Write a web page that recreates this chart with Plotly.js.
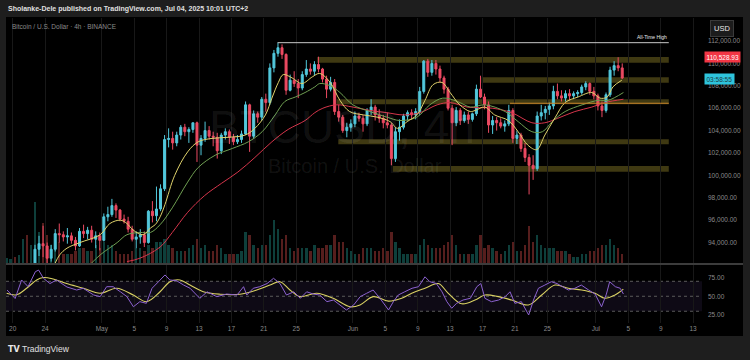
<!DOCTYPE html>
<html><head><meta charset="utf-8">
<script src="https://cdn.plot.ly/plotly-3.0.1.min.js"></script>
<style>html,body{margin:0;padding:0;background:#1e1e1e;}#chart{width:750px;height:360px;}</style>
</head><body><div id="chart"></div>
<script>
// x values are days since 2025-04-20 00:00
const tickDays = [0,4,11,15,19,23,27,31,35,42,46,50,54,58,62,66,72,76,80,84];
const tickLabels = ['20','24','May','5','9','13','17','21','25','Jun','5','9','13','17','21','25','Jul','5','9','13'];
const priceTicks = [94000,96000,98000,100000,102000,104000,106000,108000,110000,112000];
const rsiTicks = [25,50,75];

// 12h candles, first one starts 2025-04-19 00:00
const firstCandleDay = -0.75;
const candleStep = 0.5;
const open = [84800,85100,85200,84500,85100,87500,87400,89200,93400,93900,
93700,92600,93400,94800,94700,94500,94600,94200,93700,95000,
94800,95100,94300,94600,94200,96300,96500,97300,96900,96100,
95900,95200,94300,94500,94700,94000,96800,96400,97000,98800,
103200,103300,102900,103600,104300,103900,104100,104700,102700,103300,
104000,103500,103400,102200,103600,103900,103400,103000,103200,103700,
106300,103500,105500,105200,106800,106500,109600,110900,111400,110800,
107600,108500,108200,107800,109000,109500,109300,109900,109500,108600,
107700,108300,105700,105200,104000,104300,104600,105300,105100,104600,
105800,106100,105400,105100,104700,104500,101500,103900,104300,105300,
105600,105400,105700,107500,110200,109200,110000,109500,108700,107700,
106000,104700,105800,104900,105400,105000,105500,107700,107000,106300,
104500,104900,104700,104400,104600,105800,103300,103600,102400,101600,
100900,100600,105300,105600,105900,106200,107500,107100,106900,107300,
107100,107300,107400,107900,108200,107500,107100,106200,105800,107200,
109400,109800,109600];
const high = [85300,85500,85400,85300,88000,88400,89500,93800,94600,95500,
94000,93800,95200,95700,95000,95300,94900,94500,95300,95600,
95400,95500,95000,94900,96600,97200,97900,97500,97000,96500,
96300,95500,95000,95200,95000,96900,97700,99000,99200,103600,
104200,103900,103900,104500,104600,104300,104700,104800,103600,104800,
104400,103900,103800,103800,104200,104100,103700,103600,104000,106600,
106400,105800,105700,107000,107300,110000,111200,111850,111700,110900,
109000,109300,108600,109300,110300,110000,110200,110600,109600,108900,
108800,108600,106300,105400,104700,105000,105700,105600,105400,106000,
106800,106300,105900,105400,105600,104700,104300,105000,105500,105800,
105900,106000,107900,110300,110400,110300,110300,109800,108900,107900,
106300,106100,106000,105700,105700,105600,108100,108900,107300,106600,
105300,105200,105100,104900,106300,106000,104000,103800,102900,101900,
101800,105700,106300,106200,106500,108000,108200,107600,107600,107700,
107500,107600,108100,108400,108300,107900,107300,106600,107400,109700,
110200,110550,110000];
const low = [84600,84900,83900,84200,85000,86800,87100,89000,92800,92700,
91800,92300,93200,94000,94100,93900,93900,93300,93600,94400,
94300,94000,93500,93300,94100,95900,96300,96200,95900,95700,
94900,94100,93500,93900,93600,93900,95800,95900,96800,98600,
102500,102300,102600,103200,103500,102900,103800,101200,101800,103000,
103200,102600,101500,101900,103200,102800,102700,102800,102900,103600,
102100,103300,104700,104900,105700,106300,109200,110600,110400,107200,
107500,107900,106900,107600,108800,109000,108900,109200,108300,106900,
107500,105400,104800,103800,103400,103900,104300,104800,103900,104400,
105400,104900,104700,104200,104200,100900,101200,103100,104100,104900,
105000,105000,105400,107300,108800,108900,109000,108300,107300,105800,
102700,104400,104500,104700,104600,104800,105300,106900,105900,103800,
103700,104000,104200,103900,104400,102900,102800,102100,101200,98300,
99600,100400,104900,105000,105400,105900,106800,106600,106600,106700,
106800,107000,107200,107600,107200,106800,105800,105200,105600,107000,
108900,109300,108600];
const close = [85100,85200,84500,85100,87500,87400,89200,93400,93900,93700,
92600,93400,94800,94700,94500,94600,94200,93700,95000,94800,
95100,94300,94600,94200,96300,96500,97300,96900,96100,95900,
95200,94300,94500,94700,94000,96800,96400,97000,98800,103200,
103300,102900,103600,104300,103900,104100,104700,102700,103300,104000,
103500,103400,102200,103600,103900,103400,103000,103200,103700,106300,
103500,105500,105200,106800,106500,109600,110900,111400,110800,107600,
108500,108200,107800,109000,109500,109300,109900,109500,108600,107700,
108300,105700,105200,104000,104300,104600,105300,105100,104600,105800,
106100,105400,105100,104700,104500,101500,103900,104300,105300,105600,
105400,105700,107500,110200,109200,110000,109500,108700,107700,106000,
104700,105800,104900,105400,105000,105500,107700,107000,106300,104500,
104900,104700,104400,104600,105800,103300,103600,102400,101600,100900,
100600,105300,105600,105900,106200,107500,107100,106900,107300,107100,
107300,107400,107900,108200,107500,107100,106200,105800,107200,109400,
109800,109600,108700];
// volume, thousand BTC per candle
const volume = [1.5,1.2,1.8,2.5,8,9,6,20,10,13,
9,6,8,7,3,3,3,4,5,5,
4,4,6,5,7,6,6,4,3,3,
3,4,5,5,4,6,5,7,7,8,
6,5,4,4,4,5,6,8,5,6,
4,4,6,5,3,3,3,3,4,10,
9,6,5,6,6,9,14,11,8,9,
5,4,5,5,5,4,6,5,5,6,
6,9,7,7,5,4,3,3,5,5,
5,4,4,5,4,10,7,5,3,3,
3,3,6,8,6,5,5,5,6,7,
9,6,3,3,3,3,6,9,5,6,
5,4,3,4,6,7,4,4,6,12,
7,9,6,5,5,5,4,4,4,3,
2,2,3,3,4,4,5,6,6,8,
6,5,3];

// moving averages
const fastMaDay = [5.2,5.8,6.7,8.3,10.8,12.0,13.3,14.1,14.9,16.1,17.0,17.6,18.2,18.8,20.0,21.6,22.9,24.6,26.6,28.7,29.9,31.2,32.0,32.8,33.4,34.5,35.7,37.0,37.9,39.2,40.4,41.6,43.3,45.0,46.6,47.5,48.7,49.9,50.9,51.9,53.0,54.0,55.2,56.5,57.1,58.3,59.5,61.2,62.4,63.6,64.7,65.7,67.0,68.2,69.8,71.5,72.5,73.4,74.1,75.2];
const fastMa = [92100,92900,93500,94000,94700,95700,96000,95700,95100,94700,95300,95600,96300,97400,100000,102100,103000,103300,103400,103600,104200,105400,106900,108300,109000,108700,108200,108800,109100,108300,106700,105700,105400,105200,104800,104200,104800,105400,106700,108100,108300,107400,106300,105700,105800,106100,105400,104900,103900,102700,102300,103600,105200,106500,107000,107400,106900,107000,107900,108500];
const midMaDay = [9.5,10.8,12.9,14.1,15.7,17.0,18.2,19.7,21.6,22.9,25.0,27.1,29.1,30.8,32.4,33.6,34.9,36.1,37.3,37.9,39.2,40.4,42.0,44.1,46.2,47.8,49.9,51.5,53.1,54.9,56.5,58.3,60.8,62.4,64.1,65.4,66.6,68.2,70.3,72.3,73.5,75.4];
const midMa = [92000,92900,94000,94700,94900,94900,95600,97100,99400,100700,101800,102400,103000,103900,105400,106600,107000,107400,107900,108200,108000,107400,106300,105700,105200,104900,105200,106300,106900,106600,106100,106300,105700,104800,103900,103900,104800,105700,106300,106700,106700,107400];
const slowMaDay = [14.1,15.7,18.2,19.7,21.6,23.7,25.8,27.8,29.9,32.0,34.0,36.1,37.3,38.3,40.0,42.0,44.1,46.2,48.2,50.3,52.4,54.0,56.1,59.2,61.6,64.1,65.7,67.3,69.4,71.5,73.1,75.4];
const slowMa = [92300,92600,93600,94900,96700,98200,99300,100300,101600,103000,104100,104900,105600,106000,106300,106100,105800,105600,105400,105600,106300,106500,106100,106000,105600,104700,104700,105100,105700,106100,106500,106800];

// RSI and its moving average
const rsiDay = [-0.7,0.3,1.1,1.9,2.8,3.2,3.8,4.6,5.4,6.7,7.9,8.7,10.0,10.8,11.6,12.4,13.3,14.1,14.9,15.7,16.5,17.2,18.0,18.8,19.4,20.2,21.1,21.9,22.7,23.1,24.0,25.2,26.4,27.7,28.5,28.9,29.7,30.5,31.4,32.2,33.0,33.8,34.7,35.5,36.3,37.1,37.9,38.8,39.6,40.4,41.2,42.1,42.9,43.7,44.5,
45.5,46.4,47.0,47.6,48.4,49.3,50.1,50.9,51.5,52.3,53.0,53.6,54.2,54.8,55.6,56.5,57.3,57.8,58.3,59.1,60.0,60.8,61.4,62.0,62.8,63.7,64.3,64.9,65.7,66.5,67.2,67.8,68.6,69.4,70.2,71.1,71.9,72.7,73.3,73.7,74.4,75.0,75.4];
const rsi = [58.4,47,71.8,62.9,82.9,85,74,67,71.8,62.4,58.4,60.7,51.7,49.5,62.8,62.8,56,49.5,36,42.8,40.6,60.7,69.5,78.5,71.8,71,65,60.7,51.7,47.3,56,49.5,53,51.7,62.8,51.7,60.7,62.8,67,74,67,51.7,56,47.3,56,53,51.7,42.8,45,38.4,31.7,38.4,49.5,54,58.4,
45,31.7,42.8,51.7,56,60.7,62.8,76,69.5,67,56,42.8,34,40.6,45,47.3,62.8,67,47.3,42.8,45,49.5,56,40.6,42.8,25,45,60.7,65,69.5,67,62.8,58.4,60.7,65,58.4,53,36,53,69.5,62.8,60.7,53];
const rsiMaDay = [-0.75,0.49,1.72,2.96,3.78,5.0,6.66,8.72,10.78,12.84,14.89,16.54,18.19,19.42,20.65,21.89,23.53,25.59,28.06,30.12,31.77,33.0,34.23,35.47,37.53,39.58,41.64,42.88,44.52,46.38,48.02,49.26,50.9,52.55,53.78,55.43,57.08,58.31,59.96,61.6,63.66,65.31,66.95,68.6,70.24,71.89,73.12,74.36,75.39];
const rsiMa = [54,52,60.7,71.8,75,73,67,60.7,54,60.7,51.7,42.8,56,69.5,71.8,65,56,52.8,52.8,58.4,65,69.5,58.4,49.5,54,47.3,36,38.4,49.5,43.5,47.3,54,60.7,67,54,40,45,51.7,49.5,45,38.4,51.7,65,60.7,58.4,54,47.3,51.7,59.5];

// drawn zones: [low, high, start day]
const zoneLow   = [110050,108280,106350,102780,100330];
const zoneHigh  = [110580,108760,106790,103220,100840];
const zoneStart = [37.6,57.9,40.0,40.2,46.95];
const zoneEnd = 81.0;
const athPrice = 111850, athStart = 32.7;
const orangeLevel = 106440, orangeStart = 61.4;
const lastPrice = 110528.93;

const candleDay = open.map((_, i) => firstCandleDay + i * candleStep);
const volColor = open.map((o, i) => close[i] >= o ? 'rgba(38,166,154,0.38)' : 'rgba(239,83,80,0.36)');

// pixel helpers for layout placement (plot area 6..702 x, 18..336 y)
const fx = p => (p - 6) / 696;
const fy = p => (336 - p) / 318;
const FONT = 'Liberation Sans, Arial, sans-serif';

const traces = [
  {type:'bar', x:candleDay, y:volume, xaxis:'x', yaxis:'y', marker:{color:volColor, line:{width:0}}, width:0.3, hoverinfo:'skip'},
  {type:'scatter', mode:'lines', x:slowMaDay, y:slowMa, yaxis:'y3', line:{color:'#d6354b', width:1, shape:'spline'}, hoverinfo:'skip'},
  {type:'scatter', mode:'lines', x:midMaDay, y:midMa, yaxis:'y3', line:{color:'#6f9f52', width:1, shape:'spline'}, hoverinfo:'skip'},
  {type:'scatter', mode:'lines', x:fastMaDay, y:fastMa, yaxis:'y3', line:{color:'#e0d36c', width:1, shape:'spline'}, hoverinfo:'skip'},
  {type:'candlestick', x:candleDay, open:open, high:high, low:low, close:close, yaxis:'y3',
   increasing:{line:{color:'#52c8dc', width:1}, fillcolor:'#52c8dc'},
   decreasing:{line:{color:'#ec4a62', width:1}, fillcolor:'#ec4a62'},
   whiskerwidth:0, hoverinfo:'skip'},
  {type:'scatter', mode:'lines', x:rsiMaDay, y:rsiMa, yaxis:'y2', line:{color:'#d9d163', width:1.1, shape:'spline'}, hoverinfo:'skip'},
  {type:'scatter', mode:'lines', x:rsiDay, y:rsi, yaxis:'y2', line:{color:'#8c62d0', width:1}, hoverinfo:'skip'}
];

const shapes = [
  {type:'rect', xref:'paper', yref:'paper', x0:0, x1:fx(743), y0:0, y1:fy(17), fillcolor:'#000', line:{width:0}, layer:'below'},
  {type:'rect', xref:'paper', yref:'y2', x0:0, x1:1, y0:30, y1:70, fillcolor:'rgba(126,87,194,0.11)', line:{width:0}, layer:'below'},
  ...[70,50,30].map(v => ({type:'line', xref:'paper', yref:'y2', x0:0, x1:1, y0:v, y1:v, line:{color:'#5a5a5a', width:1, dash:'3px,3px'}, layer:'below'})),
  ...zoneLow.map((lo, i) => ({type:'rect', xref:'x', yref:'y3', x0:zoneStart[i], x1:zoneEnd, y0:lo, y1:zoneHigh[i], fillcolor:'rgba(140,126,40,0.45)', line:{width:0}, layer:'below'})),
  {type:'line', xref:'x', yref:'y3', x0:orangeStart, x1:zoneEnd, y0:orangeLevel, y1:orangeLevel, line:{color:'#c9842a', width:1}},
  {type:'line', xref:'x', yref:'y3', x0:athStart, x1:zoneEnd, y0:athPrice, y1:athPrice, line:{color:'#c8c8c8', width:1}},
  {type:'line', xref:'paper', yref:'paper', x0:0, x1:fx(743), y0:fy(264), y1:fy(264), line:{color:'#3c3c3c', width:2}}
];

const annotations = [
  {xref:'paper', yref:'paper', x:fx(6), y:fy(9), xanchor:'left', yanchor:'middle', showarrow:false,
   text:'<b>Sholanke-Dele published on TradingView.com, Jul 04, 2025 10:01 UTC+2</b>', font:{family:FONT, size:7, color:'#e0e0e0'}},
  {xref:'paper', yref:'paper', x:fx(10), y:fy(26), xanchor:'left', yanchor:'middle', showarrow:false,
   text:'Bitcoin / U.S. Dollar · 4h · BINANCE', font:{family:FONT, size:6.5, color:'#8a8a8a'}},
  {xref:'paper', yref:'paper', x:fx(342), y:fy(127), xanchor:'center', yanchor:'middle', showarrow:false,
   text:'BTCUSD, 4h', font:{family:FONT, size:46, color:'rgba(255,255,255,0.08)'}},
  {xref:'paper', yref:'paper', x:fx(355), y:fy(166), xanchor:'center', yanchor:'middle', showarrow:false,
   text:'Bitcoin / U.S. Dollar', font:{family:FONT, size:20, color:'rgba(255,255,255,0.08)'}},
  {xref:'x', yref:'y3', x:zoneEnd, y:athPrice, xanchor:'right', yanchor:'bottom', yshift:1, showarrow:false,
   text:'All-Time High', font:{family:FONT, size:5, color:'#e8e8e8'}},
  {xref:'paper', yref:'paper', x:fx(722), y:fy(28), xanchor:'center', yanchor:'middle', showarrow:false,
   text:'USD', font:{family:FONT, size:7.5, color:'#e8e8e8'}, bgcolor:'#1c1c1c', bordercolor:'#3a3a3a', borderwidth:1, borderpad:3},
  {xref:'paper', yref:'y3', x:fx(722), y:lastPrice, xanchor:'center', yanchor:'middle', showarrow:false,
   text:lastPrice.toLocaleString('en-US',{minimumFractionDigits:2}), font:{family:FONT, size:6.5, color:'#ffffff'}, bgcolor:'#f23645', borderpad:1.5},
  {xref:'paper', yref:'paper', x:fx(719), y:fy(79), xanchor:'center', yanchor:'middle', showarrow:false,
   text:'03:58:55', font:{family:FONT, size:6.5, color:'#1c3c44'}, bgcolor:'#2ec4dc', borderpad:1.5},
  {xref:'paper', yref:'paper', x:fx(6), y:fy(349), xanchor:'left', yanchor:'middle', showarrow:false,
   text:'<b>TV</b>', font:{family:'DejaVu Sans, sans-serif', size:8, color:'#e8e8e8'}},
  {xref:'paper', yref:'paper', x:fx(20), y:fy(349), xanchor:'left', yanchor:'middle', showarrow:false,
   text:'TradingView', font:{family:FONT, size:8.5, color:'#e0e0e0'}}
];

const layout = {
  width:750, height:360,
  margin:{l:6, r:48, t:18, b:24, pad:0},
  paper_bgcolor:'#1e1e1e', plot_bgcolor:'rgba(0,0,0,0)',
  showlegend:false, bargap:0,
  xaxis:{domain:[0,1], anchor:'y2', range:[-0.827, 85.1], tickmode:'array', tickvals:tickDays, ticktext:tickLabels,
         showgrid:true, gridcolor:'#181818', gridwidth:1, zeroline:false, showline:false, ticks:'',
         tickfont:{family:FONT, size:6.5, color:'#8a8a8a'}, rangeslider:{visible:false}, fixedrange:true},
  yaxis:{domain:[fy(263), 1], range:[0, 80], visible:false, anchor:'x', fixedrange:true},
  yaxis3:{overlaying:'y', anchor:'x', side:'right', range:[92175, 114054], tickmode:'array', tickvals:priceTicks,
          tickformat:',.2f', showgrid:false, zeroline:false, showline:false, ticks:'', ticklabelstandoff:5,
          tickfont:{family:FONT, size:6.5, color:'#8a8a8a'}, fixedrange:true},
  yaxis2:{domain:[fy(323), fy(265)], anchor:'x', side:'right', range:[14.3, 91.8], tickmode:'array', tickvals:rsiTicks,
          tickformat:'.2f', showgrid:false, zeroline:false, showline:false, ticks:'', ticklabelstandoff:5,
          tickfont:{family:FONT, size:6.5, color:'#8a8a8a'}, fixedrange:true},
  shapes:shapes, annotations:annotations
};

Plotly.newPlot('chart', traces, layout, {staticPlot:true, displayModeBar:false});
</script></body></html>
